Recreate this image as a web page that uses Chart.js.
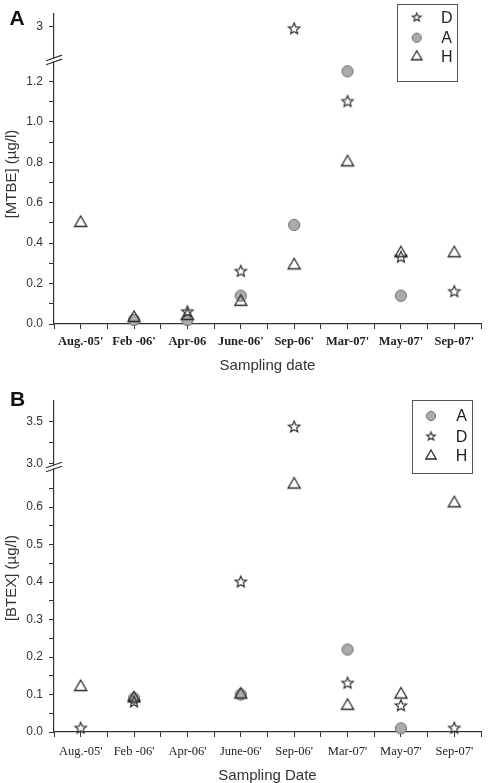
<!DOCTYPE html>
<html>
<head>
<meta charset="utf-8">
<script src="https://cdn.jsdelivr.net/npm/chart.js@4.4.1/dist/chart.umd.min.js"></script>
<style>
  body { margin: 0; background: #fff; }
  .panel { position: absolute; left: 0; width: 491px; }
  #panelA { top: 0; height: 385px; }
  #panelB { top: 385px; height: 398px; }
</style>
</head>
<body>
<div class="panel" id="panelA"><canvas id="chartA" width="491" height="385"></canvas></div>
<div class="panel" id="panelB"><canvas id="chartB" width="491" height="398"></canvas></div>
<script>
// Sampling dates (x categories)
const datesA = ["Aug.-05'", "Feb -06'", "Apr-06", "June-06'", "Sep-06'", "Mar-07'", "May-07'", "Sep-07'"];
const datesB = ["Aug.-05'", "Feb -06'", "Apr-06'", "June-06'", "Sep-06'", "Mar-07'", "May-07'", "Sep-07'"];

// Panel A: [MTBE] (µg/l)
const mtbeD = [null, null, 0.06, 0.26, 2.99, 1.10, 0.33, 0.16];
const mtbeA = [null, 0.02, 0.02, 0.14, 0.49, 1.25, 0.14, null];
const mtbeH = [0.50, 0.03, 0.04, 0.11, 0.29, 0.80, 0.35, 0.35];

// Panel B: [BTEX] (µg/l)
const btexA = [null, 0.09, null, 0.10, null, 0.22, 0.01, null];
const btexD = [0.01, 0.08, null, 0.40, 3.44, 0.13, 0.07, 0.01];
const btexH = [0.12, 0.09, null, 0.10, 0.66, 0.07, 0.10, 0.61];

// Tick values / labels for the broken y axes
const mtbeLowTicks = [0, 0.1, 0.2, 0.3, 0.4, 0.5, 0.6, 0.7, 0.8, 0.9, 1.0, 1.1, 1.2];
const mtbeLowLabels = ['0.0', '', '0.2', '', '0.4', '', '0.6', '', '0.8', '', '1.0', '', '1.2'];
const mtbeHighTicks = [3];
const mtbeHighLabels = ['3'];
const btexLowTicks = [0, 0.05, 0.1, 0.15, 0.2, 0.25, 0.3, 0.35, 0.4, 0.45, 0.5, 0.55, 0.6, 0.65];
const btexLowLabels = ['0.0', '', '0.1', '', '0.2', '', '0.3', '', '0.4', '', '0.5', '', '0.6', ''];
const btexHighTicks = [3.0, 3.25, 3.5];
const btexHighLabels = ['3.0', '', '3.5'];
const xTicks = [-0.5, 0, 0.5, 1, 1.5, 2, 2.5, 3, 3.5, 4, 4.5, 5, 5.5, 6, 6.5, 7, 7.5];

Chart.defaults.font.family = '"Liberation Sans", Arial, sans-serif';
Chart.defaults.color = '#333';

// small canvases used as point styles
function makeMarker(shape, r) {
  const size = Math.ceil(r * 2 + 4);
  const c = document.createElement('canvas');
  c.width = size; c.height = size;
  const ctx = c.getContext('2d');
  const cx = size / 2, cy = size / 2;
  ctx.beginPath();
  if (shape === 'circle') {
    ctx.arc(cx, cy, r, 0, Math.PI * 2);
    ctx.fillStyle = '#ababab';
    ctx.fill();
    ctx.strokeStyle = '#707070';
    ctx.lineWidth = 1;
    ctx.stroke();
  } else if (shape === 'triangle') {
    ctx.moveTo(cx, cy - r);
    ctx.lineTo(cx + r * 0.866, cy + r / 2);
    ctx.lineTo(cx - r * 0.866, cy + r / 2);
    ctx.closePath();
    ctx.strokeStyle = '#2a2a2a';
    ctx.lineWidth = 1.3;
    ctx.stroke();
  } else {
    for (let i = 0; i < 10; i++) {
      const rr = i % 2 ? r * 0.45 : r;
      const a = -Math.PI / 2 + i * Math.PI / 5;
      const px = cx + rr * Math.cos(a), py = cy + rr * Math.sin(a);
      if (i === 0) ctx.moveTo(px, py); else ctx.lineTo(px, py);
    }
    ctx.closePath();
    ctx.strokeStyle = '#333';
    ctx.lineWidth = 1.2;
    ctx.stroke();
  }
  return c;
}

const markers = {
  star: makeMarker('star', 6),
  circle: makeMarker('circle', 5.6),
  triangle: makeMarker('triangle', 7)
};
const legendMarkers = {
  star: makeMarker('star', 4.4),
  circle: makeMarker('circle', 4.6),
  triangle: makeMarker('triangle', 6)
};

// each series is split into a lower-segment and an upper-segment dataset
function buildDatasets(series, cut) {
  const out = [];
  series.forEach(s => {
    const low = [], high = [];
    s.values.forEach((v, i) => {
      if (v === null) return;
      (v > cut ? high : low).push({ x: i, y: v });
    });
    [['yLow', low], ['yHigh', high]].forEach(([axis, pts]) => {
      out.push({
        label: s.label,
        data: pts,
        yAxisID: axis,
        pointStyle: markers[s.marker],
        pointRadius: 6,
        clip: false
      });
    });
  });
  return out;
}

const brokenAxis = {
  id: 'brokenAxis',
  afterDraw(chart) {
    const ctx = chart.ctx;
    const x = chart.chartArea.left;
    const y = chart.scales.yLow.top;
    ctx.save();
    ctx.fillStyle = '#fff';
    ctx.fillRect(x - 2, y - 1.5, 4, 3);
    ctx.strokeStyle = '#333';
    ctx.lineWidth = 1.2;
    [-2, 2].forEach(dy => {
      ctx.beginPath();
      ctx.moveTo(x - 8, y + dy + 2.8);
      ctx.lineTo(x + 8, y + dy - 2.8);
      ctx.stroke();
    });
    ctx.restore();
  }
};

const decor = {
  id: 'decor',
  afterDraw(chart, args, opts) {
    const ctx = chart.ctx;
    ctx.save();
    // panel letter
    ctx.fillStyle = '#111';
    ctx.font = 'bold 21px "Liberation Sans", Arial, sans-serif';
    ctx.textAlign = 'left';
    ctx.textBaseline = 'alphabetic';
    ctx.fillText(opts.letter, opts.letterPos[0], opts.letterPos[1]);
    // y title
    ctx.translate(opts.yTitlePos[0], opts.yTitlePos[1]);
    ctx.rotate(-Math.PI / 2);
    ctx.font = '15px "Liberation Sans", Arial, sans-serif';
    ctx.fillStyle = '#333';
    ctx.textAlign = 'center';
    ctx.textBaseline = 'middle';
    ctx.fillText(opts.yTitle, 0, 0);
    ctx.restore();
    // legend box
    const lg = opts.legend;
    ctx.save();
    ctx.strokeStyle = '#555';
    ctx.lineWidth = 1;
    ctx.strokeRect(lg.box[0], lg.box[1], lg.box[2], lg.box[3]);
    ctx.font = '16px "Liberation Sans", Arial, sans-serif';
    ctx.fillStyle = '#222';
    ctx.textAlign = 'center';
    ctx.textBaseline = 'middle';
    lg.items.forEach((it, i) => {
      const m = legendMarkers[it.marker];
      const y = lg.rows[i];
      ctx.drawImage(m, lg.symX - m.width / 2, y - m.height / 2);
      ctx.fillText(it.label, lg.textX, y + 1);
    });
    ctx.restore();
  }
};

function yAxis(opts) {
  return {
    type: 'linear',
    position: 'left',
    stack: 'y',
    stackWeight: opts.weight,
    weight: opts.order,
    min: opts.min,
    max: opts.max,
    afterBuildTicks: s => { s.ticks = opts.ticks.map(v => ({ value: v })); },
    afterFit: s => { s.width = 54; },
    ticks: {
      autoSkip: false,
      padding: 6,
      font: { size: 12 },
      color: '#333',
      callback: (v, i) => opts.labels[i]
    },
    grid: { drawOnChartArea: false, tickLength: 5, tickColor: '#333', tickWidth: 1 },
    border: { color: '#333', width: 1.2 }
  };
}

function makeChart(id, cfg) {
  return new Chart(document.getElementById(id), {
    type: 'scatter',
    data: { datasets: buildDatasets(cfg.series, cfg.cut) },
    options: {
      responsive: false,
      animation: false,
      devicePixelRatio: 1,
      layout: { padding: { top: cfg.top, right: 10, left: 0, bottom: 0 } },
      plugins: {
        legend: { display: false },
        tooltip: { enabled: false },
        decor: cfg.decor
      },
      scales: {
        x: {
          type: 'linear',
          min: -0.5,
          max: 7.5,
          afterBuildTicks: s => { s.ticks = xTicks.map(v => ({ value: v })); },
          afterFit: s => { s.height = cfg.xHeight; },
          ticks: {
            autoSkip: false,
            maxRotation: 0,
            padding: cfg.xTickPad,
            color: '#222',
            font: { family: '"Liberation Serif", "Times New Roman", serif', size: cfg.xFontSize, weight: cfg.xFontWeight },
            callback: v => Number.isInteger(v) ? cfg.dates[v] : ''
          },
          grid: { drawOnChartArea: false, tickLength: 5, tickColor: '#333', tickWidth: 1 },
          border: { color: '#333', width: 1.2 },
          title: {
            display: true,
            text: cfg.xTitle,
            color: '#333',
            font: { size: 15, lineHeight: 1 },
            padding: { top: 0, bottom: cfg.xTitlePad }
          }
        },
        yLow: yAxis(cfg.low),
        yHigh: yAxis(cfg.high)
      }
    },
    plugins: [brokenAxis, decor]
  });
}

// order: triangles on top, circles underneath
makeChart('chartA', {
  dates: datesA,
  cut: 1.306,
  top: 5,
  xHeight: 61,
  xFontSize: 12.5,
  xFontWeight: 'bold',
  xTickPad: 5,
  xTitle: 'Sampling date',
  xTitlePad: 11.5,
  series: [
    { label: 'H', values: mtbeH, marker: 'triangle' },
    { label: 'D', values: mtbeD, marker: 'star' },
    { label: 'A', values: mtbeA, marker: 'circle' }
  ],
  low: { weight: 271, order: 0, min: 0, max: 1.306, ticks: mtbeLowTicks, labels: mtbeLowLabels },
  high: { weight: 48, order: 1, min: 2.836, max: 3.0675, ticks: mtbeHighTicks, labels: mtbeHighLabels },
  decor: {
    letter: 'A', letterPos: [9.5, 25],
    yTitle: '[MTBE] (\u00b5g/l)', yTitlePos: [12, 174],
    legend: {
      box: [397.5, 4.5, 60, 77], symX: 416.7, textX: 446.7, rows: [17.5, 37.7, 56.7],
      items: [{ label: 'D', marker: 'star' }, { label: 'A', marker: 'circle' }, { label: 'H', marker: 'triangle' }]
    }
  }
});

makeChart('chartB', {
  dates: datesB,
  cut: 0.7067,
  top: 16,
  xHeight: 51,
  xFontSize: 12.5,
  xFontWeight: 'normal',
  xTickPad: 7,
  xTitle: 'Sampling Date',
  xTitlePad: 0,
  series: [
    { label: 'H', values: btexH, marker: 'triangle' },
    { label: 'D', values: btexD, marker: 'star' },
    { label: 'A', values: btexA, marker: 'circle' }
  ],
  low: { weight: 265, order: 0, min: 0, max: 0.7067, ticks: btexLowTicks, labels: btexLowLabels },
  high: { weight: 66, order: 1, min: 2.964, max: 3.75, ticks: btexHighTicks, labels: btexHighLabels },
  decor: {
    letter: 'B', letterPos: [10, 21],
    yTitle: '[BTEX] (\u00b5g/l)', yTitlePos: [12, 193],
    legend: {
      box: [412.5, 15.5, 60, 73], symX: 431, textX: 461.5, rows: [31, 51.5, 71],
      items: [{ label: 'A', marker: 'circle' }, { label: 'D', marker: 'star' }, { label: 'H', marker: 'triangle' }]
    }
  }
});
</script>
</body>
</html>
